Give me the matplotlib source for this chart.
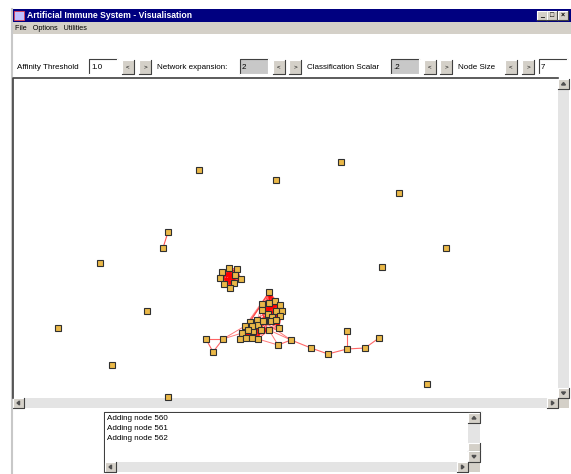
import matplotlib.pyplot as plt
from matplotlib.patches import Rectangle, Polygon
from itertools import combinations

# network nodes (screen positions)
solo_x = [199, 276, 341, 399, 446, 382, 100, 147, 58, 112, 168, 427]
solo_y = [170, 180, 162, 193, 248, 267, 263, 311, 328, 365, 397, 384]

pair_x = [168, 163]
pair_y = [232, 248]

clu_a_x = [229, 237, 222, 235, 220, 241, 234, 224, 230]
clu_a_y = [268, 269, 272, 275, 278, 279, 283, 284, 288]
# nodes half hidden under the edges inside each cluster
core_a_x = [228, 233, 226, 231, 236]
core_a_y = [274, 278, 280, 283, 272]

clu_b_x = [269, 262, 269, 275, 280, 262, 268, 276, 282, 272, 280, 264, 271, 279, 276]
clu_b_y = [292, 304, 303, 301, 305, 310, 314, 311, 311, 317, 316, 321, 321, 328, 320]
core_b_x = [270, 274, 266, 272, 277]
core_b_y = [308, 306, 312, 312, 308]

clu_c_x = [250, 257, 245, 258, 263, 242, 261, 253, 269, 240, 246, 252, 258, 252, 248]
clu_c_y = [322, 320, 326, 325, 321, 333, 330, 331, 330, 339, 338, 338, 339, 326, 330]
core_c_x = [254, 250, 256, 260, 247]
core_c_y = [328, 334, 334, 327, 334]

chain_x = [206, 223, 213, 278, 291, 311, 328, 347, 347, 365, 379]
chain_y = [339, 339, 352, 345, 340, 348, 354, 349, 331, 348, 338]
chain_edges = [(0, 1), (1, 2), (2, 0), (3, 4), (4, 5), (5, 6), (6, 7), (7, 8), (7, 9), (9, 10)]
# links chain -> cluster c (chain index, cluster c index)
link_edges = [(1, 2), (1, 5), (3, 8), (3, 12), (4, 8), (4, 4)]

controls = ["Affinity Threshold", "Network expansion:", "Classification Scalar", "Node Size"]
log_lines = ["Adding node 560", "Adding node 561", "Adding node 562"]

FONT = ["Liberation Sans Narrow", "Liberation Sans", "DejaVu Sans"]
GRAY = "#d4d0c8"

fig = plt.figure(figsize=(5.71, 4.74), dpi=100)
ax = fig.add_axes([0, 0, 1, 1])
ax.set_xlim(0, 571)
ax.set_ylim(474, 0)
ax.axis("off")


def box(x, y, w, h, fc, ec=None, lw=0.8, z=1):
    ax.add_patch(Rectangle((x, y), w, h, facecolor=fc, edgecolor=ec if ec else "none", lw=lw, zorder=z))


def bevel(x, y, w, h, fc=GRAY, raised=True, z=2):
    box(x, y, w, h, fc, z=z)
    hi, lo = ("white", "#404040") if raised else ("#404040", "white")
    ax.plot([x, x, x + w], [y + h, y, y], color=hi, lw=0.8, zorder=z + 0.1)
    ax.plot([x, x + w, x + w], [y + h, y + h, y], color=lo, lw=0.8, zorder=z + 0.1)


def arrow_btn(x, y, w, h, d, z=3):
    bevel(x, y, w, h, z=z)
    cx, cy = x + w / 2, y + h / 2
    s = 2
    pts = {"u": [(cx - s, cy + 1), (cx + s, cy + 1), (cx, cy - 1.5)],
           "d": [(cx - s, cy - 1), (cx + s, cy - 1), (cx, cy + 1.5)],
           "l": [(cx + 1, cy - s), (cx + 1, cy + s), (cx - 1.5, cy)],
           "r": [(cx - 1, cy - s), (cx - 1, cy + s), (cx + 1.5, cy)]}[d]
    ax.add_patch(Polygon(pts, closed=True, color="#505050", zorder=z + 0.2))


def vscroll(x, y, w, h):
    box(x, y, w, h, "#e4e4e4", z=2)
    arrow_btn(x, y, w, 10, "u")
    arrow_btn(x, y + h - 10, w, 10, "d")


def hscroll(x, y, w, h):
    box(x, y, w, h, "#e4e4e4", z=2)
    arrow_btn(x, y, 11, h, "l")
    arrow_btn(x + w - 11, y, 11, h, "r")


# window frame
box(12, 22, 559, 452, "white", z=0)
ax.plot([12, 12], [9, 474], color="#c8c8c8", lw=1.5, zorder=5)

# title bar
box(12, 9, 559, 13, "#000080", z=1)
box(14, 11, 10, 9, "#c0c0ff", ec="#ff4040", lw=0.5, z=2)
ax.text(27, 15.5, "Artificial Immune System - Visualisation", color="white", fontsize=6.2,
        fontweight="bold", family=FONT, va="center", ha="left", zorder=3)
for bx, sym in zip([537, 547, 558], ["_", "□", "×"]):
    bevel(bx, 11, 10, 9, z=2)
    ax.text(bx + 5, 15.5, sym, fontsize=5, fontweight="bold", va="center", ha="center", zorder=3, family=FONT)

# menu bar
box(12, 22, 559, 12, GRAY, z=1)
ax.text(15, 28, "File   Options   Utilities", fontsize=5.2, family=FONT, va="center", zorder=3)

# control row
cy = 67
ax.text(17, cy, controls[0], fontsize=5.8, family=FONT, va="center", zorder=3)
ax.text(157, cy, controls[1], fontsize=5.8, family=FONT, va="center", zorder=3)
ax.text(307, cy, controls[2], fontsize=5.8, family=FONT, va="center", zorder=3)
ax.text(458, cy, controls[3], fontsize=5.8, family=FONT, va="center", zorder=3)

fields = [(89, "1.0", "white"), (240, "2", "#c8c8c8"), (391, ".2", "#c8c8c8"), (539, "7", "white")]
for fx, val, fc in fields:
    bevel(fx, 59, 28, 15, fc=fc, raised=False)
    ax.text(fx + 2, cy, val, fontsize=5.8, family=FONT, va="center", zorder=4)

for bx in [122, 139, 273, 289, 424, 440, 505, 522]:
    bevel(bx, 60, 12, 14)
    ax.text(bx + 6, cy, "<" if bx in (122, 273, 424, 505) else ">", fontsize=4.5,
            ha="center", va="center", family=FONT, zorder=4)

# canvas
box(13, 78, 545, 320, "white", z=1)
ax.plot([13, 13, 558], [398, 78, 78], color="#404040", lw=1.2, zorder=6)
vscroll(558, 79, 11, 319)
hscroll(13, 398, 545, 10)
box(558, 398, 11, 10, GRAY, z=2)

# hidden core nodes, drawn under the edges
core_kw = dict(marker="s", ms=3.4, mfc="#f4c8c8", mec="#c08080", mew=0.5, ls="none", zorder=6.5)
for xs, ys in [(core_a_x, core_a_y), (core_b_x, core_b_y), (core_c_x, core_c_y)]:
    ax.plot(xs, ys, **core_kw)

# network edges
edge_kw = dict(color="#ff0000", lw=0.6, alpha=0.75, zorder=7)
for px, py, kx, ky in [(clu_a_x, clu_a_y, core_a_x, core_a_y), (clu_b_x, clu_b_y, core_b_x, core_b_y),
                       (clu_c_x, clu_c_y, core_c_x, core_c_y)]:
    cx_, cy_ = px + kx, py + ky
    for i, j in combinations(range(len(cx_)), 2):
        ax.plot([cx_[i], cx_[j]], [cy_[i], cy_[j]], **edge_kw)
for i in [0, 2, 5, 11]:
    for j in [0, 1, 4, 8, 13]:
        ax.plot([clu_b_x[j], clu_c_x[i]], [clu_b_y[j], clu_c_y[i]], color="#ff3030", lw=0.5, alpha=0.6, zorder=7)
ax.plot(pair_x, pair_y, color="#ff5050", lw=0.8, zorder=7)
for i, j in chain_edges:
    ax.plot([chain_x[i], chain_x[j]], [chain_y[i], chain_y[j]], color="#ff4040", lw=0.8, alpha=0.8, zorder=7)
for i, j in link_edges:
    ax.plot([chain_x[i], clu_c_x[j]], [chain_y[i], clu_c_y[j]], color="#ff4040", lw=0.7, alpha=0.7, zorder=7)

# network nodes
node_kw = dict(marker="s", ms=3.7, mfc="#eab848", mec="#303030", mew=0.8, ls="none", zorder=8)
for xs, ys in [(solo_x, solo_y), (pair_x, pair_y), (clu_a_x, clu_a_y), (clu_b_x, clu_b_y),
               (clu_c_x, clu_c_y), (chain_x, chain_y)]:
    ax.plot(xs, ys, **node_kw)

# log area
bevel(104, 412, 377, 61, fc="white", raised=False, z=2)
box(105, 413, 363, 49, "white", z=3)
for k, line in enumerate(log_lines):
    ax.text(107, 419 + 10 * k, line, fontsize=5.8, family=FONT, va="center", zorder=4)
box(468, 413, 12, 49, "#e4e4e4", z=3)
arrow_btn(468, 413, 12, 10, "u", z=4)
bevel(468, 443, 12, 8, z=4)
arrow_btn(468, 451, 12, 11, "d", z=4)
box(105, 462, 363, 10, "#e4e4e4", z=3)
arrow_btn(105, 462, 11, 10, "l", z=4)
arrow_btn(457, 462, 11, 10, "r", z=4)
box(468, 462, 12, 10, GRAY, z=3)

fig.savefig("out.png", dpi=100)
